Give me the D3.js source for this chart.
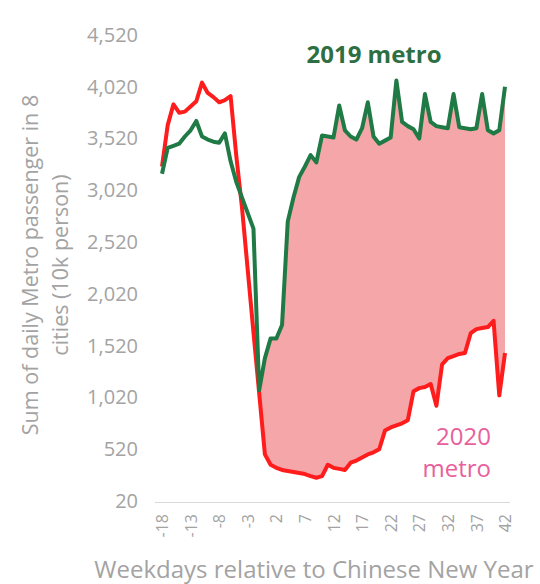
<!DOCTYPE html>
<html>
<head>
<meta charset="utf-8">
<script src="https://cdn.jsdelivr.net/npm/d3@7"></script>
<style>
  body { margin: 0; background: #fff; }
  text { font-family: 'Open Sans', sans-serif; }
</style>
</head>
<body>
<div id="chart"></div>
<script>
// weekdays relative to Chinese New Year
const days = d3.range(-18, 43);
const xTicks = [-18, -13, -8, -3, 2, 7, 12, 17, 22, 27, 32, 37, 42];
const yTicks = [20, 520, 1020, 1520, 2020, 2520, 3020, 3520, 4020, 4520];

// sum of daily metro passengers (10k person)
const metro2019 = [
  3180, 3430, 3450, 3470, 3540, 3600, 3690, 3540, 3510, 3490,
  3480, 3570, 3300, 3100, 2950, 2800, 2650, 1090, 1400, 1590,
  1590, 1720, 2720, 2950, 3150, 3250, 3360, 3290, 3550, 3540,
  3530, 3840, 3600, 3540, 3510, 3620, 3870, 3540, 3470, 3500,
  3530, 4080, 3680, 3640, 3610, 3520, 3950, 3680, 3640, 3630,
  3620, 3950, 3630, 3620, 3610, 3620, 3950, 3600, 3570, 3600,
  4020
];
const metro2020 = [
  3250, 3650, 3850, 3770, 3780, 3830, 3880, 4060, 3960, 3920,
  3870, 3890, 3930, 3350, 2850, 2250, 1650, 1060, 470, 370,
  340, 320, 310, 300, 290, 280, 260, 245, 260, 370,
  340, 330, 320, 390, 410, 440, 470, 490, 520, 700,
  730, 750, 770, 800, 1080, 1110, 1120, 1150, 940, 1340,
  1400, 1420, 1440, 1450, 1640, 1680, 1690, 1700, 1760, 1040,
  1450
];
const fillFrom = 17; // shaded gap starts where the two lines meet

const width = 540;
const height = 584;
const grey = '#a3a3a3';

const svg = d3.select('#chart')
  .append('svg')
    .attr('width', width)
    .attr('height', height)
    .attr('viewBox', `0 0 ${width} ${height}`);

const x = d3.scaleLinear().domain([-18, 42]).range([162, 505]);
const y = d3.scaleLinear().domain([20, 4520]).range([501, 35]);

const rows = days.map((d, i) => ({ day: d, a: metro2019[i], b: metro2020[i] }));

// gap between the two years
svg.append('path')
  .datum(rows.slice(fillFrom))
  .attr('fill', '#f4a6a8')
  .attr('d', d3.area()
    .x(d => x(d.day))
    .y0(d => y(d.b))
    .y1(d => y(d.a)));

// lines
svg.append('path')
  .datum(rows)
  .attr('fill', 'none')
  .attr('stroke', '#ff1c1c')
  .attr('stroke-width', 4)
  .attr('stroke-linejoin', 'round')
  .attr('d', d3.line().x(d => x(d.day)).y(d => y(d.b)));

svg.append('path')
  .datum(rows)
  .attr('fill', 'none')
  .attr('stroke', '#1f7a45')
  .attr('stroke-width', 4)
  .attr('stroke-linejoin', 'round')
  .attr('d', d3.line().x(d => x(d.day)).y(d => y(d.a)));

// y axis (labels only)
const axisY = svg.append('g')
  .attr('transform', 'translate(138, 0)')
  .call(d3.axisLeft(y).tickValues(yTicks).tickSize(0).tickPadding(0)
    .tickFormat(d3.format(',')));
axisY.select('.domain').remove();
axisY.selectAll('text')
  .attr('fill', grey)
  .style('font-size', '20px')
  .style('font-family', 'Open Sans, sans-serif');

// x axis
const axisX = svg.append('g')
  .attr('transform', 'translate(0, 502)')
  .call(d3.axisBottom(x).tickValues(xTicks).tickSize(0).tickFormat(d => String(d)));
axisX.select('.domain')
  .attr('d', 'M155,0.5H510')
  .attr('stroke', '#d9d9d9');
axisX.selectAll('text')
  .attr('fill', grey)
  .attr('transform', 'rotate(-90)')
  .attr('text-anchor', 'end')
  .attr('x', -12)
  .attr('y', 0)
  .attr('dy', '0.35em')
  .style('font-size', '16px')
  .style('font-family', 'Open Sans, sans-serif');

// axis titles
svg.append('text')
  .attr('transform', 'translate(32, 265) rotate(-90)')
  .attr('text-anchor', 'middle')
  .attr('fill', grey)
  .style('font-size', '21.5px')
  .selectAll('tspan')
  .data(['Sum of daily Metro passenger in 8', 'cities (10k person)'])
  .join('tspan')
    .attr('x', 0)
    .attr('dy', (d, i) => i ? 30 : 0)
    .attr('dominant-baseline', 'middle')
    .text(d => d);

svg.append('text')
  .attr('x', 314)
  .attr('y', 578)
  .attr('text-anchor', 'middle')
  .attr('fill', grey)
  .style('font-size', '24px')
  .text('Weekdays relative to Chinese New Year');

// series labels
svg.append('text')
  .attr('x', 374)
  .attr('y', 63)
  .attr('text-anchor', 'middle')
  .attr('fill', '#2d6e42')
  .style('font-size', '24px')
  .style('font-weight', 'bold')
  .text('2019 metro');

svg.append('text')
  .attr('text-anchor', 'end')
  .attr('fill', '#e8609c')
  .style('font-size', '24px')
  .selectAll('tspan')
  .data(['2020', 'metro'])
  .join('tspan')
    .attr('x', 491)
    .attr('y', (d, i) => 445 + i * 32)
    .text(d => d);
</script>
</body>
</html>
